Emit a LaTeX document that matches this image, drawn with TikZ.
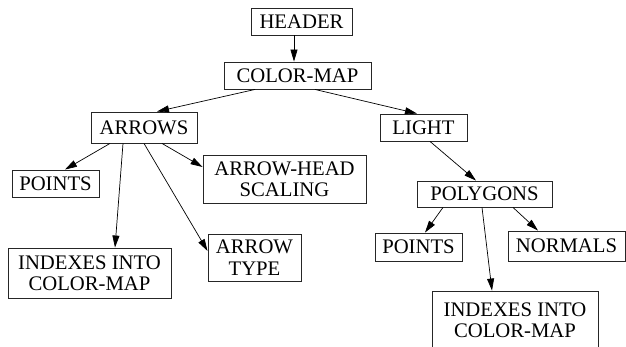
\documentclass[tikz,border=0pt]{standalone}
\usepackage{fontspec}
\setmainfont{Liberation Serif}
\usetikzlibrary{arrows.meta}
\tikzset{
  box/.style={draw=black!85, line width=0.9pt, inner sep=0pt, align=center,
    font=\fontsize{20.7}{21.5}\selectfont},
  conn/.style={line width=0.7pt, -{Triangle[length=12pt,width=7pt]}},
}
\begin{document}
\begin{tikzpicture}[x=1pt,y=-1pt]
\useasboundingbox (0,0) rectangle (626,347);
\clip (0,0) rectangle (626,347);
\node[box, minimum width=101, minimum height=27] (header) at (301.5,21.5) {HEADER};
\node[box, minimum width=147, minimum height=27] (colormap) at (297.5,75.5) {COLOR-MAP};
\node[box, minimum width=106, minimum height=31] (arrows) at (144,127.5) {ARROWS};
\node[box, minimum width=87, minimum height=27] (light) at (423.5,127.5) {LIGHT};
\node[box, minimum width=163, minimum height=48] (arrowhead) at (284.5,179) {ARROW-HEAD\\SCALING};
\node[box, minimum width=87, minimum height=27] (pointsl) at (55.5,183.5) {POINTS};
\node[box, minimum width=163, minimum height=50] (idxl) at (89.5,273) {INDEXES INTO\\COLOR-MAP};
\node[box, minimum width=93, minimum height=47] (arrowtype) at (254.5,257.5) {ARROW\\TYPE};
\node[box, minimum width=135, minimum height=26] (polygons) at (484.5,194) {POLYGONS};
\node[box, minimum width=87, minimum height=28] (pointsr) at (418.5,247) {POINTS};
\node[box, minimum width=117, minimum height=30] (normals) at (566.5,246) {NORMALS};
\node[box, minimum width=166, minimum height=58] (idxr) at (515,320) {INDEXES INTO\\COLOR-MAP};

\draw[conn] ([xshift=-7.5]header.south) -- ([xshift=-3.5]colormap.north);
\draw[conn] ([xshift=-42.5]colormap.south) -- ([xshift=13]arrows.north);
\draw[conn] ([xshift=17.5]colormap.south) -- ([xshift=-6.5]light.north);
\draw[conn] ([xshift=-34]arrows.south) -- ([xshift=9.5]pointsl.north);
\draw[conn] ([xshift=-21]arrows.south) -- ([xshift=25.5]idxl.north);
\draw[conn] (arrows.south) -- ([yshift=6.5]arrowtype.west);
\draw[conn] ([xshift=18]arrows.south) -- ([yshift=12]arrowhead.west);
\draw[conn] ([xshift=6.5]light.south) -- ([xshift=-8.5]polygons.north);
\draw[conn] ([xshift=-41.5]polygons.south) -- ([xshift=6.5]pointsr.north);
\draw[conn] ([xshift=-2.5]polygons.south) -- ([xshift=-23]idxr.north);
\draw[conn] ([xshift=28.5]polygons.south) -- ([xshift=-28.5]normals.north);
\end{tikzpicture}
\end{document}
